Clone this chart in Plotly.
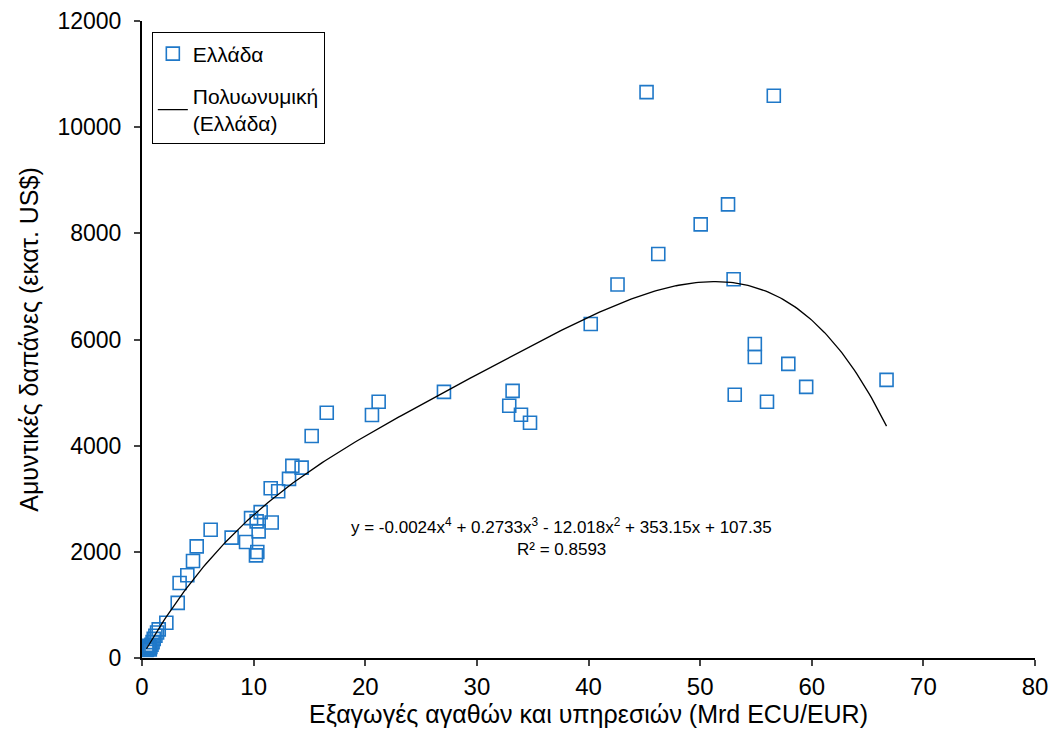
import numpy as np
import plotly.graph_objects as go

# Exports of goods and services (bn ECU/EUR) vs defence spending (mn US$), Greece
exports = [
    0.4, 0.45, 0.5, 0.6, 0.65, 0.7, 0.75, 0.85, 0.95, 1.05, 1.2, 1.35, 1.5,
    2.18, 3.2, 3.37, 4.06, 4.57, 4.9, 6.15, 8.03, 9.32, 9.77, 10.21, 10.33,
    10.27, 10.45, 10.63, 11.53, 11.62, 12.2, 13.17, 13.47, 14.3, 15.2, 16.55,
    20.6, 21.2, 27.05, 32.9, 33.2, 33.95, 34.76, 40.2, 42.6, 45.2, 46.25,
    50.05, 52.5, 53.0, 53.1, 54.9, 54.9, 55.99, 56.6, 57.9, 59.5, 66.7,
]
defence = [
    150, 160, 190, 180, 230, 160, 210, 250, 300, 360, 420, 480, 540,
    663, 1039, 1414, 1559, 1828, 2103, 2417, 2267, 2185, 2635, 1934, 1997,
    2573, 2385, 2748, 3198, 2554, 3142, 3375, 3619, 3587, 4182, 4620,
    4577, 4826, 5014, 4751, 5033, 4582, 4432, 6291, 7036, 10661, 7612,
    8169, 8545, 7136, 4958, 5915, 5671, 4826, 10592, 5540, 5108, 5239,
]
x_ticks = [0, 10, 20, 30, 40, 50, 60, 70, 80]
y_ticks = [0, 2000, 4000, 6000, 8000, 10000, 12000]

equation_text = "y = -0.0024x<sup>4</sup> + 0.2733x<sup>3</sup> - 12.018x<sup>2</sup> + 353.15x + 107.35"
r2_text = "R² = 0.8593"

# 4th order polynomial trend line fitted to the data (as the spreadsheet does)
coef = np.polyfit(exports, defence, 4)
xs = np.linspace(min(exports), max(exports), 300)
ys = np.polyval(coef, xs)

fig = go.Figure()
fig.add_trace(go.Scatter(
    x=exports, y=defence, mode="markers", name="Ελλάδα", legendgroup="data",
    marker=dict(symbol="square-open", size=13, color="#1F78C8",
                line=dict(width=1.6, color="#1F78C8")),
))
fig.add_trace(go.Scatter(
    x=xs, y=ys, mode="lines", name="Πολυωνυμική<br>(Ελλάδα)", legendgroup="trend",
    line=dict(color="black", width=1.3),
))

font_family = "Liberation Sans, Arial, sans-serif"
fig.add_annotation(x=37.6, y=2480, text=equation_text, showarrow=False,
                   font=dict(size=17, family=font_family, color="black"))
fig.add_annotation(x=37.6, y=2050, text=r2_text, showarrow=False,
                   font=dict(size=17, family=font_family, color="black"))

fig.update_layout(
    width=1050, height=727,
    margin=dict(l=134, r=23, t=13, b=77),
    paper_bgcolor="white", plot_bgcolor="white",
    font=dict(family=font_family, color="black"),
    legend=dict(x=0.011, y=0.982, xanchor="left", yanchor="top",
                bordercolor="black", borderwidth=1, bgcolor="white",
                font=dict(size=21, family=font_family), tracegroupgap=12),
    showlegend=True,
)
fig.update_xaxes(
    range=[0, 80], tickvals=x_ticks, ticks="outside", ticklen=6, tickwidth=1.5,
    showline=True, linecolor="black", linewidth=2, showgrid=False, zeroline=False,
    automargin=False, ticklabelstandoff=0, ticklabeloverflow="allow",
    tickfont=dict(size=24), title=dict(text="Εξαγωγές αγαθών και υπηρεσιών (Mrd ECU/EUR)",
                                        font=dict(size=25), standoff=0),
)
fig.update_yaxes(
    range=[0, 12000], tickvals=y_ticks, tickformat="d", ticks="outside", ticklen=6,
    tickwidth=1.5, showline=True, linecolor="black", linewidth=2, showgrid=False,
    zeroline=False, automargin=False, ticklabelstandoff=8, ticklabeloverflow="allow",
    tickfont=dict(size=23), title=dict(text="Αμυντικές δαπάνες (εκατ. US$)",
                                        font=dict(size=25), standoff=12),
)

fig.write_html("out.html")
